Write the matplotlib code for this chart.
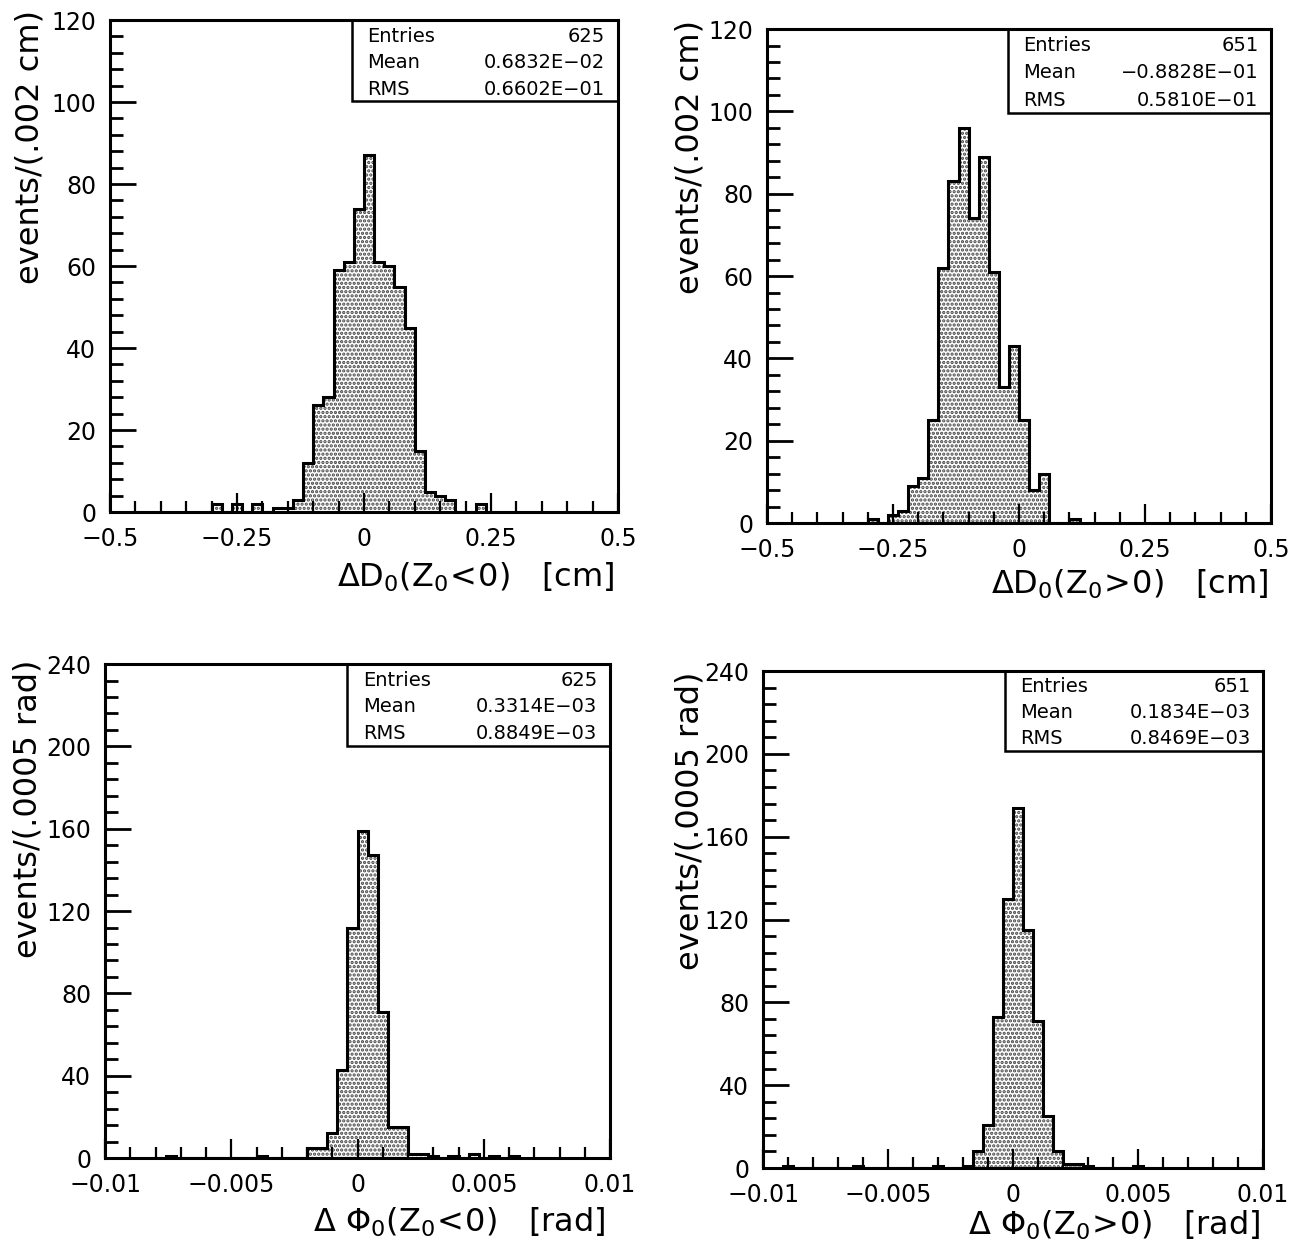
import numpy as np
import matplotlib
matplotlib.use("Agg")
import matplotlib.pyplot as plt
from matplotlib.patches import Rectangle
from matplotlib.ticker import MultipleLocator

# ─── DATA ────────────────────────────────────────────────────
# Delta D0, bins of 0.02 cm
D0_BIN = 0.02
D0_NEG_START = -0.30
D0_NEG_COUNTS = [2, 0, 2, 0, 2, 0, 1, 1,
                 3, 12, 26, 28, 59, 61, 74, 87, 61, 60, 55, 45, 15, 5, 4, 3,
                 0, 0, 2]
D0_POS_START = -0.30
D0_POS_COUNTS = [1, 0, 2, 3, 9, 11, 25, 62, 83, 96, 74, 89, 61, 33, 43, 25,
                 8, 12, 0, 0, 1]

# Delta phi0, bins of 0.0004 rad
PHI_BIN = 0.0004
PHI_NEG_START = -0.0080
PHI_NEG_COUNTS = [0, 1, 0, 0, 0, 0, 0, 0, 0, 0, 1, 0, 0, 0, 0,
                  5, 5, 12, 43, 112, 159, 147, 71, 15, 15, 2, 2, 1,
                  0, 1, 0, 2, 0, 1, 0, 1]
PHI_POS_START = -0.0092
PHI_POS_COUNTS = [1, 0, 0, 0, 0, 0, 0, 1, 0, 0, 0, 0, 0, 0, 0, 1, 0, 0,
                  1, 8, 21, 73, 130, 174, 115, 71, 25, 8, 2, 2, 1,
                  0, 0, 0, 0, 1, 0]

# stats boxes
STAT_NAMES   = ["Entries", "Mean", "RMS"]
STATS_D0_NEG  = ["625", "0.6832E\u221202", "0.6602E\u221201"]
STATS_D0_POS  = ["651", "\u22120.8828E\u221201", "0.5810E\u221201"]
STATS_PHI_NEG = ["625", "0.3314E\u221203", "0.8849E\u221203"]
STATS_PHI_POS = ["651", "0.1834E\u221203", "0.8469E\u221203"]

# axis ticks / labels
D0_XTICKS  = [-0.5, -0.25, 0, 0.25, 0.5]
D0_XLABELS = ["\u22120.5", "\u22120.25", "0", "0.25", "0.5"]
PHI_XTICKS  = [-0.01, -0.005, 0, 0.005, 0.01]
PHI_XLABELS = ["\u22120.01", "\u22120.005", "0", "0.005", "0.01"]
D0_YTICKS  = [0, 20, 40, 60, 80, 100, 120]
PHI_YTICKS = [0, 40, 80, 120, 160, 200, 240]

# ─── STYLE ───────────────────────────────────────────────────
plt.rcParams["font.family"] = ["DejaVu Sans"]
plt.rcParams["mathtext.fontset"] = "dejavusans"
plt.rcParams["hatch.linewidth"] = 1.6
plt.rcParams["hatch.color"] = "#444444"

LW = 2.2
TICK_FS = 17
LABEL_FS = 23
BOX_FS = 14


def draw_hist(ax, start, width, counts):
    edges = start + width * np.arange(len(counts) + 1)
    ax.stairs(counts, edges, fill=True, facecolor="white",
              edgecolor="#444444", hatch="....", linewidth=0)
    ax.stairs(counts, edges, baseline=0, color="black", linewidth=LW)


def style_axes(ax, xticks, xlabels, xlim, xminor, yticks, yminor):
    ax.set_xlim(*xlim)
    ax.set_ylim(yticks[0], yticks[-1])
    ax.set_xticks(xticks)
    ax.set_xticklabels(xlabels, fontsize=TICK_FS)
    ax.set_yticks(yticks)
    ax.set_yticklabels([str(v) for v in yticks], fontsize=TICK_FS)
    ax.xaxis.set_minor_locator(MultipleLocator(xminor))
    ax.yaxis.set_minor_locator(MultipleLocator(yminor))
    ax.tick_params(which="both", direction="in", top=False, right=False)
    ax.tick_params(axis="y", which="major", length=19, width=2, pad=10)
    ax.tick_params(axis="y", which="minor", length=9, width=2)
    ax.tick_params(axis="x", which="major", length=14, width=1.6, pad=11)
    ax.tick_params(axis="x", which="minor", length=8, width=1.6)
    for sp in ax.spines.values():
        sp.set_linewidth(LW)


def stats_box(ax, values, x0, y0):
    h = 1.0 - y0
    ax.add_patch(Rectangle((x0, y0), 1.0 - x0, h, transform=ax.transAxes,
                           fill=False, linewidth=1.8, clip_on=False, zorder=5))
    for frac, name, val in zip([0.80, 0.48, 0.15], STAT_NAMES, values):
        y = y0 + frac * h
        ax.text(x0 + 0.03, y, name, transform=ax.transAxes, fontsize=BOX_FS,
                ha="left", va="center")
        ax.text(0.975, y, val, transform=ax.transAxes, fontsize=BOX_FS,
                ha="right", va="center")


def labels(ax, ylabel, ylab_x, ylab_y, xlabel, xlab_x, xlab_y):
    ax.text(ylab_x, ylab_y, ylabel, transform=ax.transAxes, rotation=90,
            fontsize=LABEL_FS, ha="center", va="top")
    ax.text(xlab_x, xlab_y, xlabel, transform=ax.transAxes,
            fontsize=LABEL_FS, ha="right", va="center")


# ─── FIGURE ──────────────────────────────────────────────────
fig = plt.figure(figsize=(12.97, 12.48), dpi=100)

ax1 = fig.add_axes([0.0848, 0.5897, 0.3917, 0.3942])
ax2 = fig.add_axes([0.5914, 0.5809, 0.3886, 0.3958])
ax3 = fig.add_axes([0.0810, 0.0721, 0.3894, 0.3958])
ax4 = fig.add_axes([0.5883, 0.0641, 0.3855, 0.3982])

draw_hist(ax1, D0_NEG_START, D0_BIN, D0_NEG_COUNTS)
style_axes(ax1, D0_XTICKS, D0_XLABELS, (-0.5, 0.5), 0.05, D0_YTICKS, 4)
stats_box(ax1, STATS_D0_NEG, 0.476, 0.835)
labels(ax1, "events/(.002 cm)", -0.157, 1.02,
       r"$\Delta\mathrm{D}_0(\mathrm{Z}_0\!<\!0)$   [cm]", 0.992, -0.132)

draw_hist(ax2, D0_POS_START, D0_BIN, D0_POS_COUNTS)
style_axes(ax2, D0_XTICKS, D0_XLABELS, (-0.5, 0.5), 0.05, D0_YTICKS, 4)
stats_box(ax2, STATS_D0_POS, 0.478, 0.83)
labels(ax2, "events/(.002 cm)", -0.153, 1.018,
       r"$\Delta\mathrm{D}_0(\mathrm{Z}_0\!>\!0)$   [cm]", 0.994, -0.125)

draw_hist(ax3, PHI_NEG_START, PHI_BIN, PHI_NEG_COUNTS)
style_axes(ax3, PHI_XTICKS, PHI_XLABELS, (-0.01, 0.01), 0.001, PHI_YTICKS, 8)
stats_box(ax3, STATS_PHI_NEG, 0.48, 0.834)
labels(ax3, "events/(.0005 rad)", -0.152, 1.008,
       r"$\Delta\ \Phi_0(\mathrm{Z}_0\!<\!0)$   [rad]", 0.99, -0.13)

draw_hist(ax4, PHI_POS_START, PHI_BIN, PHI_POS_COUNTS)
style_axes(ax4, PHI_XTICKS, PHI_XLABELS, (-0.01, 0.01), 0.001, PHI_YTICKS, 8)
stats_box(ax4, STATS_PHI_POS, 0.484, 0.84)
labels(ax4, "events/(.0005 rad)", -0.146, 0.998,
       r"$\Delta\ \Phi_0(\mathrm{Z}_0\!>\!0)$   [rad]", 0.994, -0.115)

fig.savefig("out.png", dpi=100)
